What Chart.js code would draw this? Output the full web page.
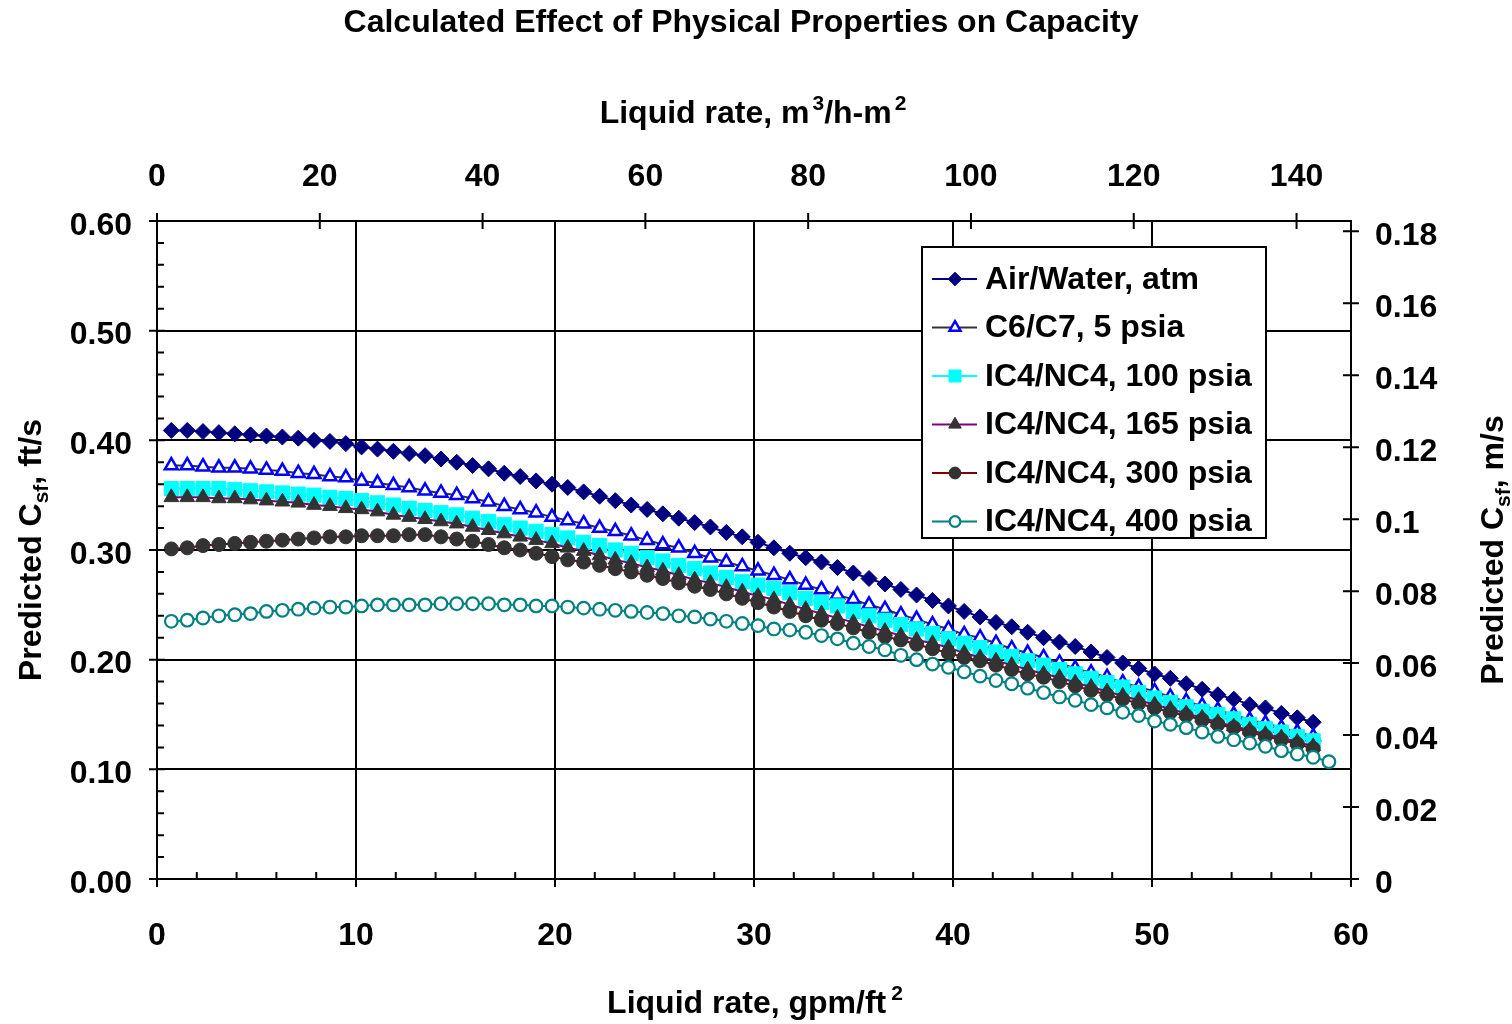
<!DOCTYPE html>
<html>
<head>
<meta charset="utf-8">
<script src="https://cdn.jsdelivr.net/npm/chart.js@4.4.1/dist/chart.umd.min.js"></script>
<style>
  html, body { margin: 0; padding: 0; background: #fff; }
</style>
</head>
<body>
<canvas id="grafico" width="1512" height="1024"></canvas>
<script>
// ============================================
// DADOS
// ============================================

// liquid rate, gpm/ft2
const liquidRate = [
  0.72, 1.52, 2.31, 3.11, 3.91, 4.70, 5.50, 6.30, 7.10, 7.89,
  8.69, 9.49, 10.28, 11.08, 11.88, 12.67, 13.47, 14.27, 15.06, 15.86,
  16.66, 17.45, 18.25, 19.05, 19.85, 20.64, 21.44, 22.24, 23.03, 23.83,
  24.63, 25.42, 26.22, 27.02, 27.81, 28.61, 29.41, 30.20, 31.00, 31.80,
  32.60, 33.39, 34.19, 34.99, 35.78, 36.58, 37.38, 38.17, 38.97, 39.77,
  40.56, 41.36, 42.16, 42.95, 43.75, 44.55, 45.35, 46.14, 46.94, 47.74,
  48.53, 49.33, 50.13, 50.92, 51.72, 52.52, 53.31, 54.11, 54.91, 55.70,
  56.50, 57.30, 58.10, 58.89
];

// predicted Csf, ft/s
const airWater = [
  0.409, 0.409, 0.408, 0.407, 0.406, 0.405, 0.404, 0.403, 0.402, 0.400,
  0.399, 0.397, 0.394, 0.392, 0.390, 0.388, 0.386, 0.383, 0.380, 0.377,
  0.374, 0.370, 0.367, 0.363, 0.360, 0.357, 0.353, 0.349, 0.345, 0.341,
  0.337, 0.333, 0.329, 0.325, 0.321, 0.316, 0.312, 0.307, 0.302, 0.297,
  0.293, 0.289, 0.284, 0.279, 0.274, 0.269, 0.264, 0.259, 0.254, 0.249,
  0.244, 0.239, 0.234, 0.230, 0.225, 0.220, 0.216, 0.212, 0.207, 0.202,
  0.197, 0.192, 0.187, 0.183, 0.178, 0.173, 0.168, 0.164, 0.159, 0.156,
  0.151, 0.147, 0.143
];
const c6c7 = [
  0.377, 0.377, 0.376, 0.375, 0.375, 0.374, 0.373, 0.372, 0.370, 0.369,
  0.367, 0.366, 0.363, 0.361, 0.359, 0.357, 0.354, 0.352, 0.350, 0.347,
  0.344, 0.340, 0.337, 0.334, 0.330, 0.327, 0.324, 0.320, 0.317, 0.313,
  0.309, 0.305, 0.302, 0.297, 0.293, 0.289, 0.285, 0.281, 0.277, 0.273,
  0.268, 0.264, 0.259, 0.255, 0.250, 0.246, 0.241, 0.237, 0.232, 0.228,
  0.223, 0.220, 0.215, 0.210, 0.206, 0.202, 0.197, 0.192, 0.188, 0.184,
  0.179, 0.175, 0.171, 0.166, 0.162, 0.158, 0.154, 0.150, 0.145, 0.142,
  0.138, 0.134, 0.130
];
const ic4_100 = [
  0.356, 0.356, 0.356, 0.356, 0.355, 0.354, 0.353, 0.352, 0.351, 0.350,
  0.348, 0.347, 0.345, 0.343, 0.341, 0.338, 0.336, 0.334, 0.332, 0.329,
  0.326, 0.323, 0.320, 0.317, 0.314, 0.311, 0.307, 0.304, 0.300, 0.297,
  0.293, 0.290, 0.286, 0.283, 0.279, 0.275, 0.271, 0.268, 0.265, 0.261,
  0.256, 0.252, 0.249, 0.244, 0.240, 0.236, 0.232, 0.228, 0.224, 0.219,
  0.215, 0.211, 0.207, 0.203, 0.199, 0.195, 0.191, 0.187, 0.183, 0.179,
  0.175, 0.170, 0.165, 0.161, 0.157, 0.153, 0.150, 0.146, 0.141, 0.137,
  0.134, 0.130, 0.126
];
const ic4_165 = [
  0.348, 0.348, 0.348, 0.347, 0.347, 0.346, 0.345, 0.344, 0.343, 0.341,
  0.340, 0.338, 0.337, 0.335, 0.332, 0.330, 0.328, 0.326, 0.324, 0.321,
  0.318, 0.315, 0.312, 0.309, 0.306, 0.302, 0.299, 0.295, 0.291, 0.288,
  0.284, 0.281, 0.277, 0.273, 0.270, 0.266, 0.262, 0.258, 0.255, 0.250,
  0.246, 0.242, 0.238, 0.234, 0.230, 0.226, 0.222, 0.218, 0.215, 0.211,
  0.206, 0.202, 0.199, 0.195, 0.191, 0.187, 0.184, 0.179, 0.175, 0.171,
  0.167, 0.163, 0.159, 0.155, 0.151, 0.147, 0.143, 0.139, 0.136, 0.132,
  0.129, 0.125, 0.121
];
const ic4_300 = [
  0.301, 0.302, 0.304, 0.305, 0.306, 0.307, 0.308, 0.309, 0.310, 0.311,
  0.312, 0.312, 0.313, 0.313, 0.313, 0.314, 0.314, 0.312, 0.310, 0.308,
  0.305, 0.302, 0.300, 0.297, 0.294, 0.291, 0.289, 0.286, 0.283, 0.280,
  0.277, 0.274, 0.270, 0.267, 0.264, 0.260, 0.256, 0.252, 0.248, 0.244,
  0.240, 0.236, 0.233, 0.229, 0.225, 0.221, 0.218, 0.214, 0.210, 0.206,
  0.202, 0.199, 0.195, 0.191, 0.187, 0.184, 0.180, 0.176, 0.172, 0.168,
  0.164, 0.160, 0.156, 0.152, 0.149, 0.145, 0.141, 0.138, 0.134, 0.130,
  0.127, 0.123, 0.119
];
const ic4_400 = [
  0.235, 0.236, 0.238, 0.240, 0.241, 0.242, 0.244, 0.245, 0.246, 0.247,
  0.248, 0.248, 0.249, 0.250, 0.250, 0.250, 0.250, 0.251, 0.251, 0.251,
  0.251, 0.250, 0.250, 0.249, 0.249, 0.248, 0.247, 0.246, 0.245, 0.244,
  0.243, 0.242, 0.240, 0.239, 0.237, 0.235, 0.233, 0.231, 0.228, 0.227,
  0.225, 0.222, 0.219, 0.215, 0.212, 0.209, 0.204, 0.200, 0.196, 0.193,
  0.189, 0.185, 0.181, 0.178, 0.174, 0.170, 0.166, 0.163, 0.159, 0.156,
  0.152, 0.149, 0.144, 0.141, 0.138, 0.134, 0.130, 0.127, 0.124, 0.121,
  0.117, 0.114, 0.111, 0.107
];

const seriesNames = [
  'Air/Water, atm', 'C6/C7, 5 psia', 'IC4/NC4, 100 psia',
  'IC4/NC4, 165 psia', 'IC4/NC4, 300 psia', 'IC4/NC4, 400 psia'
];
const seriesValues = [airWater, c6c7, ic4_100, ic4_165, ic4_300, ic4_400];

// eixos
const bottomTicks = [0, 10, 20, 30, 40, 50, 60];          // gpm/ft2
const topTicks = [0, 20, 40, 60, 80, 100, 120, 140];      // m3/h-m2
const leftTicks = [0, 0.1, 0.2, 0.3, 0.4, 0.5, 0.6];      // ft/s
const rightTicks = [0, 0.02, 0.04, 0.06, 0.08, 0.1, 0.12, 0.14, 0.16, 0.18]; // m/s

const chartTitle = 'Calculated Effect of Physical Properties on Capacity';

// ============================================
// ESTILOS
// ============================================
const FONT = '"Liberation Sans", Arial, sans-serif';
const FS = 32;
const styles = [
  { line: '#000080', shape: 'rectRot',  r: 8,   fill: '#000080', stroke: '#000080', bw: 1 },
  { line: '#333333', shape: 'triangle', r: 7.5, fill: '#ffffff', stroke: '#0000ff', bw: 2.5 },
  { line: '#00ffff', shape: 'rect',     r: 10,  fill: '#00ffff', stroke: '#00ffff', bw: 1 },
  { line: '#800080', shape: 'triangle', r: 8.5, fill: '#333333', stroke: '#333333', bw: 1 },
  { line: '#800000', shape: 'circle',   r: 7,   fill: '#333333', stroke: '#333333', bw: 1 },
  { line: '#008080', shape: 'circle',   r: 6.3, fill: '#ffffff', stroke: '#008080', bw: 2.2 }
];

function f(size) { return 'bold ' + size + 'px ' + FONT; }

// texto com sobrescrito / subscrito
function drawRich(ctx, parts, x, y, rot) {
  ctx.save();
  ctx.translate(x, y);
  if (rot) ctx.rotate(rot);
  ctx.textBaseline = 'alphabetic';
  ctx.textAlign = 'left';
  ctx.fillStyle = '#000';
  let total = 0;
  parts.forEach(p => {
    ctx.font = f(p.s ? 21 : FS);
    p.w = ctx.measureText(p.t).width + (p.gap || 0);
    total += p.w;
  });
  let cx = -total / 2;
  parts.forEach(p => {
    ctx.font = f(p.s ? 21 : FS);
    const dy = p.s === 'sup' ? -13 : (p.s === 'sub' ? 7 : 0);
    ctx.fillText(p.t, cx + (p.gap || 0), dy);
    cx += p.w;
  });
  ctx.restore();
}

// ============================================
// PLUGIN: marcas, títulos e legenda
// ============================================
const decor = {
  id: 'decor',
  afterDraw(chart) {
    const { ctx, chartArea: a, scales } = chart;
    ctx.save();
    ctx.strokeStyle = '#000';
    ctx.lineWidth = 2;
    ctx.beginPath();
    // eixo inferior
    for (let i = 0; i <= 30; i++) {
      const px = scales.x.getPixelForValue(i * 2);
      if (i % 5 === 0) { ctx.moveTo(px, a.bottom - 8); ctx.lineTo(px, a.bottom + 8); }
      else { ctx.moveTo(px, a.bottom); ctx.lineTo(px, a.bottom - 7); }
    }
    // eixo esquerdo
    for (let i = 0; i <= 30; i++) {
      const py = scales.y.getPixelForValue(i * 0.02);
      if (i % 5 === 0) { ctx.moveTo(a.left - 8, py); ctx.lineTo(a.left + 8, py); }
      else { ctx.moveTo(a.left, py); ctx.lineTo(a.left + 7, py); }
    }
    // eixo superior
    topTicks.forEach(v => {
      const px = scales.xTop.getPixelForValue(v);
      ctx.moveTo(px, a.top - 8); ctx.lineTo(px, a.top + 8);
    });
    // eixo direito
    rightTicks.forEach(v => {
      const py = scales.yRight.getPixelForValue(v);
      ctx.moveTo(a.right - 8, py); ctx.lineTo(a.right + 8, py);
    });
    ctx.stroke();

    // título
    ctx.fillStyle = '#000';
    ctx.font = f(FS);
    ctx.textAlign = 'center';
    ctx.textBaseline = 'middle';
    ctx.fillText(chartTitle, 741, 23);

    // títulos dos eixos
    drawRich(ctx, [{ t: 'Liquid rate, m' }, { t: '3', s: 'sup', gap: 3 }, { t: '/h-m' }, { t: '2', s: 'sup', gap: 3 }], 753, 123);
    drawRich(ctx, [{ t: 'Liquid rate, gpm/ft' }, { t: '2', s: 'sup', gap: 5 }], 755, 1013);
    drawRich(ctx, [{ t: 'Predicted C' }, { t: 'sf', s: 'sub' }, { t: ', ft/s' }], 41, 550, -Math.PI / 2);
    drawRich(ctx, [{ t: 'Predicted C' }, { t: 'sf', s: 'sub' }, { t: ', m/s' }], 1503, 550, -Math.PI / 2);

    // legenda
    const lx = 922, ly = 247, lw = 344, lh = 291;
    ctx.fillStyle = '#fff';
    ctx.fillRect(lx, ly, lw, lh);
    ctx.strokeStyle = '#000';
    ctx.lineWidth = 2;
    ctx.strokeRect(lx, ly, lw, lh);
    seriesNames.forEach((name, i) => {
      const st = styles[i];
      const cy = 279 + i * 48.5;
      ctx.strokeStyle = st.line;
      ctx.lineWidth = 2;
      ctx.beginPath();
      ctx.moveTo(932, cy);
      ctx.lineTo(977, cy);
      ctx.stroke();
      ctx.fillStyle = st.fill;
      ctx.strokeStyle = st.stroke;
      ctx.lineWidth = st.bw;
      Chart.helpers.drawPoint(ctx, { pointStyle: st.shape, radius: st.r * 0.85, rotation: 0, borderWidth: st.bw }, 955, cy);
      ctx.fillStyle = '#000';
      ctx.font = f(FS);
      ctx.textAlign = 'left';
      ctx.textBaseline = 'middle';
      ctx.fillText(name, 985, cy + 1);
    });
    ctx.restore();
  }
};

// ============================================
// GRÁFICO
// ============================================
const datasets = seriesValues.map((vals, i) => ({
  label: seriesNames[i],
  data: vals.map((v, k) => ({ x: liquidRate[k], y: v })),
  xAxisID: 'x',
  yAxisID: 'y',
  showLine: true,
  borderColor: styles[i].line,
  borderWidth: 2,
  pointStyle: styles[i].shape,
  pointRadius: styles[i].r,
  pointBackgroundColor: styles[i].fill,
  pointBorderColor: styles[i].stroke,
  pointBorderWidth: styles[i].bw,
  order: seriesValues.length - i
}));

const tickFont = { family: FONT, size: FS, weight: 'bold' };

const ctx = document.getElementById('grafico').getContext('2d');
const chart = new Chart(ctx, {
  type: 'scatter',
  data: { datasets },
  options: {
    responsive: false,
    animation: false,
    events: [],
    layout: { padding: 0 },
    plugins: { legend: { display: false }, tooltip: { enabled: false }, title: { display: false } },
    scales: {
      x: {
        type: 'linear', position: 'bottom', min: 0, max: 60,
        afterBuildTicks: s => { s.ticks = bottomTicks.map(v => ({ value: v })); },
        ticks: { font: tickFont, color: '#000', padding: 38, maxRotation: 0 },
        grid: {
          drawTicks: false, lineWidth: 2,
          color: c => (c.tick && c.tick.value > 0 && c.tick.value < 60) ? '#000' : 'rgba(0,0,0,0)'
        },
        border: { color: '#000', width: 2 },
        afterFit: s => { s.height = 145; }
      },
      xTop: {
        type: 'linear', position: 'top', min: 0, max: 146.69,
        afterBuildTicks: s => { s.ticks = topTicks.map(v => ({ value: v })); },
        ticks: { font: tickFont, color: '#000', padding: 25, maxRotation: 0 },
        grid: { display: false, drawTicks: false },
        border: { color: '#000', width: 2 },
        afterFit: s => { s.height = 221; }
      },
      y: {
        type: 'linear', position: 'left', min: 0, max: 0.6,
        afterBuildTicks: s => { s.ticks = leftTicks.map(v => ({ value: v })); },
        ticks: { font: tickFont, color: '#000', padding: 25, labelOffset: 5, callback: v => v.toFixed(2) },
        grid: {
          drawTicks: false, lineWidth: 2,
          color: c => (c.tick && c.tick.value > 0.001 && c.tick.value < 0.599) ? '#000' : 'rgba(0,0,0,0)'
        },
        border: { color: '#000', width: 2 },
        afterFit: s => { s.width = 157; }
      },
      yRight: {
        type: 'linear', position: 'right', min: 0, max: 0.18288,
        afterBuildTicks: s => { s.ticks = rightTicks.map(v => ({ value: v })); },
        ticks: { font: tickFont, color: '#000', padding: 24, labelOffset: 5, callback: v => String(Number(v.toFixed(2))) },
        grid: { display: false, drawTicks: false },
        border: { color: '#000', width: 2 },
        afterFit: s => { s.width = 161; }
      }
    }
  },
  plugins: [decor]
});
</script>
</body>
</html>
